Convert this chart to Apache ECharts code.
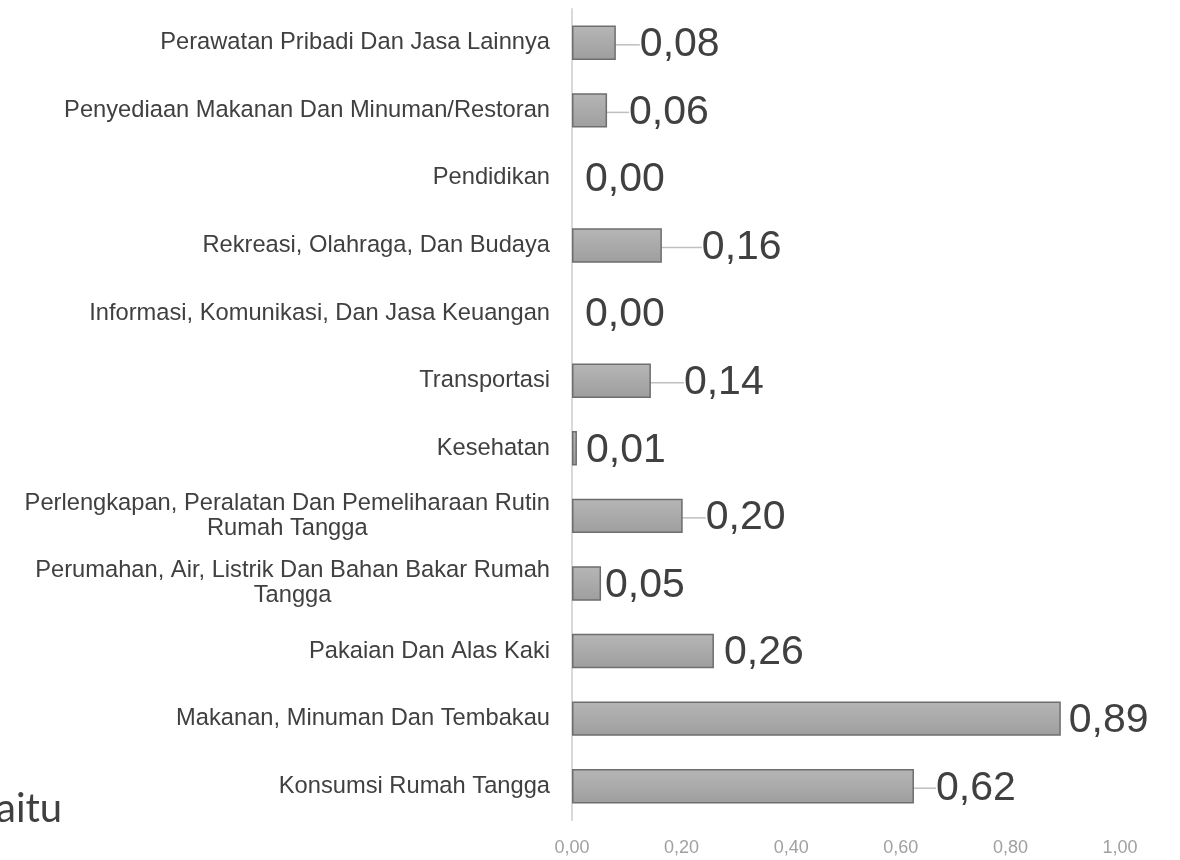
<!DOCTYPE html>
<html>
<head>
<meta charset="utf-8">
<script src="https://cdn.jsdelivr.net/npm/echarts@6/dist/echarts.min.js"></script>
<style>
  html, body { margin: 0; padding: 0; background: #fff; }
  #chart { width: 1180px; height: 860px; }
</style>
</head>
<body>
<div id="chart"></div>
<script>
(function () {
  // categories, bottom to top
  const categories = [
    "Konsumsi Rumah Tangga",
    "Makanan, Minuman Dan Tembakau",
    "Pakaian Dan Alas Kaki",
    "Perumahan, Air, Listrik Dan Bahan Bakar Rumah Tangga",
    "Perlengkapan, Peralatan Dan Pemeliharaan Rutin Rumah Tangga",
    "Kesehatan",
    "Transportasi",
    "Informasi, Komunikasi, Dan Jasa Keuangan",
    "Rekreasi, Olahraga, Dan Budaya",
    "Pendidikan",
    "Penyediaan Makanan Dan Minuman/Restoran",
    "Perawatan Pribadi Dan Jasa Lainnya",
  ];
  const values = [0.624, 0.892, 0.259, 0.053, 0.202, 0.009, 0.144, 0, 0.164, 0, 0.064, 0.08];
  const xTicks = [0, 0.2, 0.4, 0.6, 0.8, 1.0];

  // how far each value label was pushed away from its bar (px)
  const labelShift = [17, 3, 5, -1, 18, 4, 28, 8, 35, 8, 17, 19];

  const fmt = (v) => v.toFixed(2).replace(".", ",");

  const catFont = "23.7px 'Liberation Sans', Arial, sans-serif";
  const maxLabelWidth = 542;

  // wrap long category names word by word, like the spreadsheet did
  const ctx = document.createElement("canvas").getContext("2d");
  ctx.font = catFont;
  function wrap(text) {
    const words = text.split(" ");
    let lines = [];
    let line = "";
    words.forEach((w) => {
      const test = line ? line + " " + w : w;
      if (line && ctx.measureText(test).width > maxLabelWidth) {
        lines.push(line);
        line = w;
      } else {
        line = test;
      }
    });
    lines.push(line);
    return lines.map((l) => "{c|" + l + "}").join("\n");
  }

  const chart = echarts.init(document.getElementById("chart"));

  const data = values.map((v, i) => ({
    value: v,
    itemStyle: v > 0 ? undefined : { borderWidth: 0 },
    labelLine: { show: labelShift[i] > 10 && v > 0 },
  }));

  const option = {
    animation: false,
    grid: { left: 572, right: 60, top: 9, bottom: 40 },
    xAxis: {
      type: "value",
      min: xTicks[0],
      max: xTicks[xTicks.length - 1],
      interval: 0.2,
      axisLine: { show: false },
      axisTick: { show: false },
      splitLine: { show: false },
      axisLabel: {
        margin: 19,
        fontSize: 18,
        color: "#a0a0a0",
        fontFamily: "Liberation Sans, Arial, sans-serif",
        formatter: (v) => fmt(v),
      },
    },
    yAxis: {
      type: "category",
      data: categories,
      axisTick: { show: false },
      axisLine: { lineStyle: { color: "#d9d9d9", width: 2 } },
      axisLabel: {
        margin: 22,
        align: "right",
        formatter: (v) => wrap(v),
        rich: {
          c: {
            align: "center",
            fontSize: 23.7,
            lineHeight: 25,
            color: "#404040",
            fontFamily: "Liberation Sans, Arial, sans-serif",
          },
        },
      },
    },
    series: [
      {
        type: "bar",
        data: data,
        barCategoryGap: "49%",
        itemStyle: {
          color: new echarts.graphic.LinearGradient(0, 0, 0, 1, [
            { offset: 0, color: "#b6b6b6" },
            { offset: 1, color: "#9e9e9e" },
          ]),
          borderColor: "#6e6e6e",
          borderWidth: 1.5,
        },
        label: {
          show: true,
          position: "right",
          distance: 5,
          fontSize: 41,
          color: "#404040",
          fontFamily: "Liberation Sans, Arial, sans-serif",
          formatter: (p) => fmt(p.value),
        },
        labelLine: {
          show: true,
          lineStyle: { color: "#bfbfbf", width: 1.5 },
        },
        labelLayout: (p) => ({ dx: labelShift[p.dataIndex], dy: 2 }),
      },
    ],
    graphic: [
      {
        type: "text",
        left: -4,
        top: 789,
        style: {
          text: "aitu",
          fontSize: 40,
          fill: "#404040",
          fontFamily: "Lato, sans-serif",
        },
      },
    ],
  };

  chart.setOption(option);
})();
</script>
</body>
</html>
